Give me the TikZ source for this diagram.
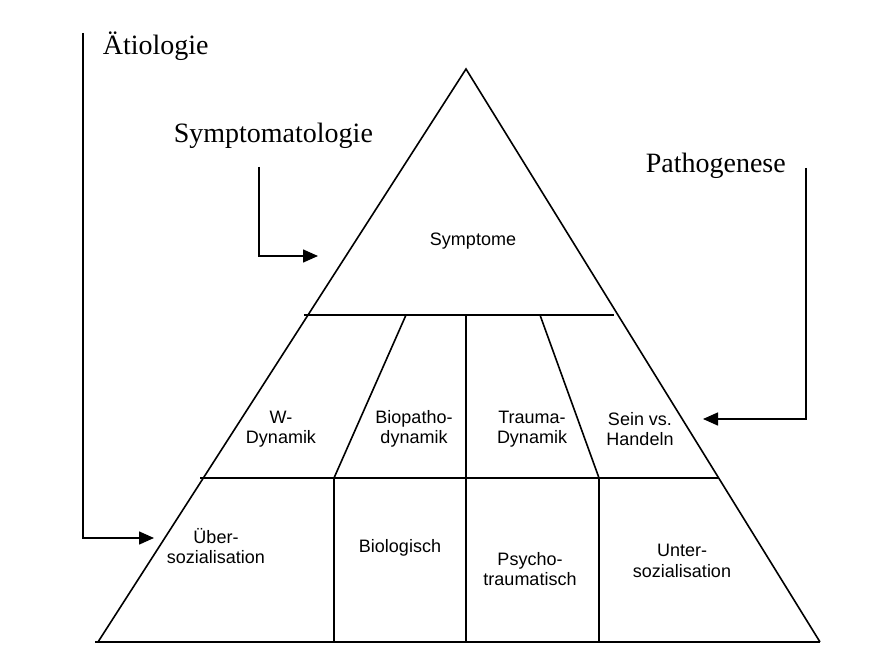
\documentclass[tikz,border=0pt]{standalone}
\usepackage{fontspec}
\setmainfont{Liberation Serif}
\newfontfamily\labelfont{Liberation Sans}
\usetikzlibrary{arrows.meta}

\begin{document}
\begin{tikzpicture}[x=1pt,y=-1pt,
  line width=1.6pt,
  heading/.style={font=\fontsize{28}{32}\selectfont, inner sep=0pt, anchor=base west},
  cell/.style={font=\labelfont\fontsize{18}{20.5}\selectfont, align=center, inner sep=0pt},
  pointer/.style={-{Triangle[length=15pt,width=13pt]}, line width=1.5pt},
]
\useasboundingbox (0,0) rectangle (872,660);

% pyramid outline
\coordinate (apex) at (466,69);
\coordinate (bl)   at (98,642);
\coordinate (br)   at (820,642);
\coordinate (baseL) at (95,642);
\draw (bl) -- (apex) -- (br);
\draw (baseL) -- (br);

% horizontal band borders
\coordinate (r1L) at (304,315); \coordinate (r1R) at (614,315);
\coordinate (r2L) at (200,478); \coordinate (r2R) at (718,478);
\draw (r1L) -- (r1R);
\draw (r2L) -- (r2R);

% middle band dividers
\coordinate (d1t) at (406,315); \coordinate (d1b) at (334,478);
\coordinate (d2t) at (466,315); \coordinate (d2b) at (466,478);
\coordinate (d3t) at (540,315); \coordinate (d3b) at (599,478);
\draw (d1t) -- (d1b);
\draw (d2t) -- (d2b);
\draw (d3t) -- (d3b);

% bottom band dividers
\coordinate (v1) at (334,642); \coordinate (v2) at (466,642); \coordinate (v3) at (599,642);
\draw (d1b) -- (v1);
\draw (d2b) -- (v2);
\draw (d3b) -- (v3);

% headings
\node[heading] (eti)  at (102,55)  {Ätiologie};
\node[heading] (sym)  at (173,143) {Symptomatologie};
\node[heading] (path) at (645,173) {Pathogenese};

% pointers
\coordinate (etiStart)  at (83,33);   \coordinate (etiTip)  at (154,538);
\coordinate (symStart)  at (259,167); \coordinate (symTip)  at (318,256);
\coordinate (pathStart) at (806,168); \coordinate (pathTip) at (703,419);
\draw[pointer] (etiStart) |- (etiTip);
\draw[pointer] (symStart) |- (symTip);
\draw[pointer] (pathStart) |- (pathTip);

% cell labels
\node[cell] (symptome) at (473,241) {Symptome};

\node[cell] (wdyn)  at (281,429) {W-\\Dynamik};
\node[cell] (bio)   at (414,429) {Biopatho-\\dynamik};
\node[cell] (trau)  at (532,429) {Trauma-\\Dynamik};
\node[cell] (sein)  at (640,429) {Sein vs.\\Handeln};

\node[cell] (ueber) at (216,546) {Über-\\sozialisation};
\node[cell] (biol)  at (400,548) {Biologisch};
\node[cell] (psy)   at (530,569) {Psycho-\\traumatisch};
\node[cell] (unter) at (682,561) {Unter-\\sozialisation};
\end{tikzpicture}
\end{document}
